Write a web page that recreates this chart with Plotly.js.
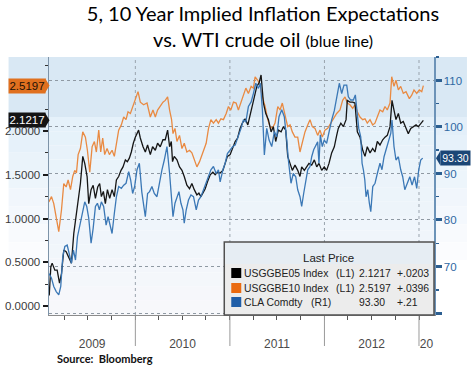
<!DOCTYPE html>
<html><head><meta charset="utf-8">
<script src="https://cdn.plot.ly/plotly-3.0.1.min.js"></script>
<style>html,body{margin:0;padding:0;background:#fff}#chart{width:475px;height:368px}</style>
</head><body><div id="chart"></div>
<script>
// ---- data (time stamps as decimal years) ----
const t10 = [2009.085,2009.113,2009.137,2009.163,2009.190,2009.219,2009.243,2009.268,2009.289,2009.314,2009.338,2009.359,2009.377,2009.395,2009.419,2009.444,2009.472,2009.493,2009.518,2009.543,2009.567,2009.588,2009.613,2009.634,2009.655,2009.676,2009.701,2009.726,2009.754,2009.778,2009.803,2009.824,2009.852,2009.877,2009.902,2009.923,2009.948,2009.972,2010.000,2010.029,2010.053,2010.088,2010.124,2010.159,2010.187,2010.212,2010.236,2010.264,2010.293,2010.317,2010.342,2010.363,2010.384,2010.399,2010.420,2010.441,2010.468,2010.494,2010.518,2010.546,2010.574,2010.599,2010.624,2010.652,2010.680,2010.705,2010.729,2010.750,2010.775,2010.800,2010.827,2010.856,2010.880,2010.906,2010.933,2010.962,2010.986,2011.011,2011.039,2011.067,2011.091,2011.119,2011.144,2011.170,2011.197,2011.226,2011.250,2011.268,2011.296,2011.321,2011.345,2011.374,2011.402,2011.426,2011.451,2011.479,2011.508,2011.532,2011.556,2011.585,2011.613,2011.638,2011.662,2011.690,2011.719,2011.743,2011.768,2011.796,2011.825,2011.849,2011.873,2011.902,2011.930,2011.955,2011.979,2012.007,2012.036,2012.071,2012.106,2012.131,2012.166,2012.194,2012.219,2012.243,2012.271,2012.300,2012.324,2012.349,2012.377,2012.406,2012.430,2012.454,2012.483,2012.511,2012.535,2012.560,2012.588,2012.617,2012.641,2012.665,2012.694,2012.712,2012.736,2012.757,2012.782,2012.807,2012.834,2012.863,2012.898,2012.923,2012.947,2012.976,2013.003,2013.029,2013.046];
const be10 = [1.19,1.25,1.17,1.02,0.85,1.10,1.40,1.36,1.44,1.33,1.48,1.55,1.52,1.73,1.80,1.99,1.93,1.78,1.53,1.82,1.88,1.76,2.01,1.76,1.92,1.73,1.80,1.73,1.78,1.71,1.90,2.01,2.07,2.16,2.13,2.22,2.20,2.28,2.35,2.45,2.33,2.30,2.32,2.16,2.24,2.16,2.24,2.28,2.33,2.35,2.39,2.24,2.13,1.97,2.03,1.88,1.95,1.80,1.86,1.76,1.78,1.75,1.67,1.59,1.65,1.73,1.80,1.86,2.03,2.13,2.09,2.13,2.09,2.14,2.13,2.20,2.28,2.24,2.33,2.32,2.24,2.33,2.43,2.49,2.43,2.51,2.49,2.62,2.58,2.53,2.39,2.28,2.13,2.05,2.03,2.09,2.28,2.24,2.32,2.20,2.05,2.07,1.99,1.93,1.93,1.76,1.86,1.99,2.07,2.13,2.05,2.03,1.95,2.01,1.93,2.01,2.03,2.09,2.16,2.20,2.24,2.35,2.39,2.32,2.30,2.26,2.30,2.22,2.16,2.13,2.14,2.09,2.13,2.07,2.09,2.16,2.24,2.22,2.28,2.24,2.32,2.62,2.51,2.58,2.47,2.51,2.43,2.45,2.37,2.41,2.47,2.43,2.47,2.45,2.5197];

const t05 = [2009.089,2009.106,2009.120,2009.148,2009.173,2009.198,2009.219,2009.243,2009.268,2009.296,2009.324,2009.349,2009.374,2009.395,2009.419,2009.444,2009.465,2009.490,2009.507,2009.532,2009.554,2009.578,2009.602,2009.623,2009.641,2009.662,2009.683,2009.705,2009.729,2009.754,2009.778,2009.800,2009.824,2009.849,2009.870,2009.895,2009.916,2009.937,2009.958,2009.979,2010.000,2010.035,2010.053,2010.082,2010.106,2010.130,2010.159,2010.183,2010.212,2010.236,2010.264,2010.293,2010.317,2010.342,2010.363,2010.381,2010.394,2010.412,2010.441,2010.468,2010.494,2010.518,2010.546,2010.574,2010.599,2010.624,2010.652,2010.673,2010.694,2010.715,2010.740,2010.764,2010.793,2010.821,2010.845,2010.870,2010.898,2010.927,2010.951,2010.975,2011.004,2011.032,2011.057,2011.083,2011.109,2011.133,2011.162,2011.191,2011.215,2011.239,2011.260,2011.286,2011.310,2011.331,2011.356,2011.381,2011.409,2011.437,2011.461,2011.486,2011.514,2011.543,2011.567,2011.592,2011.613,2011.638,2011.662,2011.690,2011.719,2011.743,2011.761,2011.789,2011.814,2011.838,2011.867,2011.895,2011.920,2011.944,2011.973,2012.000,2012.025,2012.050,2012.078,2012.106,2012.131,2012.148,2012.175,2012.202,2012.230,2012.243,2012.271,2012.300,2012.324,2012.334,2012.349,2012.377,2012.406,2012.430,2012.454,2012.483,2012.511,2012.535,2012.560,2012.588,2012.617,2012.641,2012.665,2012.694,2012.715,2012.736,2012.757,2012.782,2012.807,2012.834,2012.863,2012.887,2012.913,2012.940,2012.969,2012.993,2013.018,2013.046];
const be05 = [0.12,0.45,0.49,0.41,0.41,0.26,0.37,0.64,0.62,0.56,0.49,0.83,1.02,1.17,1.40,1.71,1.63,1.48,1.17,1.33,1.38,1.23,1.36,1.40,1.25,1.31,1.17,1.33,1.23,1.33,1.25,1.44,1.48,1.55,1.59,1.67,1.65,1.69,1.76,1.86,1.93,2.01,1.92,1.82,1.76,1.84,1.73,1.82,1.78,1.86,1.82,1.90,1.90,2.01,1.82,1.88,1.65,1.71,1.67,1.59,1.55,1.48,1.38,1.34,1.40,1.33,1.27,1.29,1.25,1.29,1.34,1.42,1.50,1.53,1.50,1.53,1.52,1.55,1.63,1.71,1.73,1.82,1.88,1.92,2.03,2.09,2.14,2.07,2.18,2.28,2.41,2.51,2.55,2.64,2.32,2.20,2.13,1.99,2.05,1.88,2.01,1.99,2.05,2.01,1.71,1.63,1.55,1.61,1.55,1.48,1.59,1.55,1.59,1.63,1.61,1.67,1.59,1.63,1.55,1.59,1.55,1.63,1.75,1.82,1.95,2.03,2.09,2.05,2.13,2.35,2.33,2.33,2.32,2.20,1.99,1.93,1.78,1.71,1.82,1.75,1.80,1.76,1.88,1.84,1.90,1.93,1.95,2.05,2.35,2.24,2.13,2.20,2.09,2.11,2.03,1.97,2.03,2.05,2.07,2.05,2.09,2.1217];

const tOil = [2009.087,2009.113,2009.137,2009.163,2009.190,2009.211,2009.232,2009.254,2009.279,2009.303,2009.324,2009.345,2009.367,2009.388,2009.409,2009.437,2009.465,2009.486,2009.507,2009.532,2009.554,2009.578,2009.599,2009.620,2009.641,2009.665,2009.691,2009.712,2009.733,2009.754,2009.778,2009.800,2009.824,2009.852,2009.877,2009.902,2009.930,2009.951,2009.972,2009.993,2010.018,2010.043,2010.069,2010.085,2010.106,2010.130,2010.151,2010.176,2010.201,2010.229,2010.257,2010.282,2010.307,2010.335,2010.363,2010.384,2010.399,2010.420,2010.441,2010.462,2010.483,2010.504,2010.518,2010.539,2010.563,2010.589,2010.616,2010.645,2010.669,2010.694,2010.722,2010.750,2010.775,2010.800,2010.827,2010.856,2010.880,2010.898,2010.927,2010.951,2010.975,2011.004,2011.032,2011.057,2011.091,2011.119,2011.144,2011.170,2011.197,2011.226,2011.250,2011.275,2011.303,2011.324,2011.345,2011.366,2011.391,2011.416,2011.444,2011.472,2011.497,2011.521,2011.550,2011.577,2011.603,2011.620,2011.648,2011.672,2011.698,2011.719,2011.743,2011.761,2011.782,2011.803,2011.825,2011.849,2011.867,2011.888,2011.909,2011.930,2011.944,2011.958,2011.979,2012.000,2012.025,2012.050,2012.078,2012.106,2012.131,2012.159,2012.184,2012.208,2012.237,2012.254,2012.279,2012.307,2012.328,2012.343,2012.364,2012.385,2012.399,2012.413,2012.428,2012.441,2012.459,2012.476,2012.491,2012.512,2012.536,2012.560,2012.588,2012.609,2012.631,2012.652,2012.676,2012.702,2012.715,2012.736,2012.757,2012.782,2012.807,2012.828,2012.850,2012.875,2012.903,2012.927,2012.953,2012.976,2012.997,2013.018,2013.039];
const oil = [68.5,67.5,65.7,64.6,63.9,65.7,72.1,74.3,74.6,72.8,70.7,73.5,71.4,76.4,78.6,80.7,83.9,82.9,80.4,75.0,78.2,82.9,83.6,82.2,83.9,82.9,78.9,80.7,78.6,77.1,81.4,85.0,87.2,86.8,87.5,87.9,90.4,88.6,85.7,87.2,90.8,92.2,86.0,83.6,80.7,85.7,86.1,87.2,85.7,85.0,88.2,90.8,92.9,95.8,90.0,85.0,80.7,83.6,85.0,86.1,83.6,82.2,79.3,82.2,84.3,85.4,85.0,82.2,84.3,85.0,86.5,87.9,89.3,90.8,91.5,90.0,90.8,88.2,90.8,92.2,94.3,95.1,95.8,96.1,97.9,99.7,101.5,101.1,104.4,105.4,107.2,109.4,108.3,109.4,103.7,94.0,99.7,97.2,95.8,99.0,97.9,102.2,103.7,102.2,97.2,92.9,87.9,90.0,89.3,86.5,85.0,82.9,85.7,88.6,90.8,91.5,93.6,95.1,95.8,96.8,92.2,98.3,95.8,97.2,96.5,99.0,101.5,103.5,106.0,109.4,107.2,109.0,109.0,106.5,105.8,105.8,106.9,104.4,99.7,97.9,92.2,90.8,88.6,85.0,86.5,83.6,81.8,87.2,87.9,90.0,92.2,90.8,93.6,95.1,96.8,98.6,101.5,95.8,92.9,93.6,90.8,89.3,86.5,87.9,89.3,87.5,89.3,86.8,90.8,92.9,93.3];

const years = [2009, 2010, 2011, 2012, 2013];
const yearLabels = ['2009', '2010', '2011', '2012', '20'];
const leftTicks = [0, 0.5, 1.0, 1.5, 2.0];
const leftTickText = ['0.0000', '0.5000', '1.0000', '1.5000', '2.0000'];
const rightTicks = [60, 70, 80, 90, 100, 110];
const rightTickText = ['', '70', '80', '90', '100', '110'];
const legendNames = ['USGGBE05 Index', 'USGGBE10 Index', 'CLA Comdty'];
const legendAxes = ['(L1)', '(L1)', '(R1)'];
const lastPrice = ['2.1217', '2.5197', '93.30'];
const netChange = ['+.0203', '+.0396', '+.21'];
const seriesColors = ['#151515', '#e98a42', '#3b78b6'];
const swatchColors = ['#000000', '#ea6a10', '#1f5ea8'];
const tagColors = ['#141414', '#e0701f', '#1b4676'];

// ---- helpers ----
const xStart = 2009.0866, xEnd = 2013.1587;
const toDate = d => { const y = Math.floor(d); const a = Date.UTC(y,0,1), b = Date.UTC(y+1,0,1);
  return new Date(a + (d - y) * (b - a)).toISOString().slice(0,19).replace('T',' '); };
const yr2p = d => (d - xStart) / (xEnd - xStart);
// pixel helpers for decoration placement (plot area: x 48.5..434, y 57..315)
const PL = 48.5, PR = 434, PT = 57, PB = 315;
const px = p => (p - PL) / (PR - PL);
const py = p => (PB - p) / (PB - PT);
const yL = [-0.103, 2.846], yR = [59.57, 115.05];

const traces = [
  {x: tOil.map(toDate), y: oil, yaxis: 'y2', mode: 'lines', line: {color: seriesColors[2], width: 1.3}, name: 'CLA Comdty', hoverinfo: 'skip'},
  {x: t10.map(toDate), y: be10, mode: 'lines', line: {color: seriesColors[1], width: 1.3}, name: 'USGGBE10 Index', hoverinfo: 'skip'},
  {x: t05.map(toDate), y: be05, mode: 'lines', line: {color: seriesColors[0], width: 1.3}, name: 'USGGBE05 Index', hoverinfo: 'skip'}
];

// ---- decoration shapes ----
const shapes = [];
const lerp = (c1, c2, f) => { const a = c1.match(/\w\w/g).map(h => parseInt(h,16)), b = c2.match(/\w\w/g).map(h => parseInt(h,16));
  return 'rgb(' + a.map((v,i) => Math.round(v + (b[i]-v)*f)).join(',') + ')'; };
shapes.push({type:'rect', xref:'paper', yref:'paper', x0: px(8), x1: px(467), y0: py(117), y1: py(57), fillcolor:'#d9e8f4', line:{width:0}, layer:'below'});
const N = 14;
for (let i = 0; i < N; i++) {
  const a = 117 + (315-117)*i/N, b = 117 + (315-117)*(i+1)/N;
  shapes.push({type:'rect', xref:'paper', yref:'paper', x0: 0, x1: 1, y0: py(b), y1: py(a), fillcolor: lerp('e5f1fa','f7f8fb', i/(N-1)), line:{width:0}, layer:'below'});
}
for (let i = 0; i < 8; i++) {
  const a = 117 + (260-117)*i/8, b = 117 + (260-117)*(i+1)/8;
  const c = lerp('e3eff9','fbfcfe', i/7);
  shapes.push({type:'rect', xref:'paper', yref:'paper', x0: px(8), x1: 0, y0: py(b), y1: py(a), fillcolor: c, line:{width:0}, layer:'below'});
  shapes.push({type:'rect', xref:'paper', yref:'paper', x0: 1, x1: px(467), y0: py(b), y1: py(a), fillcolor: c, line:{width:0}, layer:'below'});
}
years.slice(1).forEach(y => {
  shapes.push({type:'line', xref:'paper', yref:'paper', x0: yr2p(y), x1: yr2p(y), y0: 0, y1: 1, line:{color:'#9aa3ad', width:1, dash:'dot'}, layer:'below'});
  shapes.push({type:'line', xref:'paper', yref:'paper', x0: yr2p(y), x1: yr2p(y), y0: py(316), y1: py(346), line:{color:'#9a9a9a', width:1}});
});
// legend box
shapes.push({type:'rect', xref:'paper', yref:'paper', x0: px(224), x1: px(434), y0: py(315), y1: py(242), fillcolor:'#ececec', line:{color:'#505050', width:1.5}, layer:'above'});
shapes.push({type:'rect', xref:'paper', yref:'paper', x0: px(225), x1: px(433), y0: py(264), y1: py(243), fillcolor:'#e6edf3', line:{width:0}, layer:'above'});
const rowY = [273, 288, 302];
rowY.forEach((yy, i) => {
  shapes.push({type:'rect', xref:'paper', yref:'paper', x0: px(231), x1: px(241), y0: py(yy+5), y1: py(yy-5), fillcolor: swatchColors[i], line:{width:0}, layer:'above'});
});
// tag pointers
const hL = 7.5 * (yL[1]-yL[0]) / (PB-PT), hR = 7.5 * (yR[1]-yR[0]) / (PB-PT);
const lastL = [be05[be05.length-1], be10[be10.length-1]];
lastL.forEach((v, i) => {
  shapes.push({type:'path', xref:'paper', yref:'y', path: `M ${px(44.5)},${v+hL} L ${px(49)},${v} L ${px(44.5)},${v-hL} Z`, fillcolor: tagColors[i], line:{width:0}, layer:'above'});
});
const lastOil = oil[oil.length-1];
shapes.push({type:'path', xref:'paper', yref:'y2', path: `M ${px(440.5)},${lastOil+hR} L ${px(436)},${lastOil} L ${px(440.5)},${lastOil-hR} Z`, fillcolor: tagColors[2], line:{width:0}, layer:'above'});

// ---- annotations ----
const NF = 'Liberation Sans, Arial, sans-serif';
const LF = 10.4;
const ann = [];
ann.push({xref:'paper', yref:'y', x: px(45), y: lastL[0], xanchor:'right', yanchor:'middle', text: lastPrice[0], showarrow:false, bgcolor: tagColors[0], width: 36, height: 14, borderpad: 0, font:{family:NF, size:11.5, color:'#ffffff'}});
ann.push({xref:'paper', yref:'y', x: px(45), y: lastL[1], xanchor:'right', yanchor:'middle', text: lastPrice[1], showarrow:false, bgcolor: tagColors[1], width: 36, height: 14, borderpad: 0, font:{family:NF, size:11.5, color:'#241005'}});
ann.push({xref:'paper', yref:'y2', x: px(440), y: lastOil, xanchor:'left', yanchor:'middle', text: lastPrice[2], showarrow:false, bgcolor: tagColors[2], width: 29, height: 14, borderpad: 0, font:{family:NF, size:10.5, color:'#ffffff'}});
ann.push({xref:'paper', yref:'paper', x: px(328), y: py(258), xanchor:'center', yanchor:'middle', text:'Last Price', showarrow:false, font:{family:NF, size:11.5, color:'#222'}});
const axX = [334, 334, 309];
rowY.forEach((yy, i) => {
  ann.push({xref:'paper', yref:'paper', x: px(242), y: py(yy), xanchor:'left', yanchor:'middle', text: legendNames[i], showarrow:false, font:{family:NF, size:LF, color:'#222'}});
  ann.push({xref:'paper', yref:'paper', x: px(axX[i]), y: py(yy), xanchor:'left', yanchor:'middle', text: legendAxes[i], showarrow:false, font:{family:NF, size:LF, color:'#222'}});
  ann.push({xref:'paper', yref:'paper', x: px(357), y: py(yy), xanchor:'left', yanchor:'middle', text: lastPrice[i], showarrow:false, font:{family:NF, size:LF, color:'#222'}});
  ann.push({xref:'paper', yref:'paper', x: px(395), y: py(yy), xanchor:'left', yanchor:'middle', text: netChange[i], showarrow:false, font:{family:NF, size:LF, color:'#222'}});
});
ann.push({xref:'paper', yref:'paper', x: px(55), y: py(358), xanchor:'left', yanchor:'middle', text:'<b>Source:  Bloomberg</b>', showarrow:false, font:{family:'Lato, sans-serif', size:11, color:'#111'}});

const tickPos = years.map(y => toDate((Math.max(y, xStart) + Math.min(y+1, xEnd)) / 2));

const layout = {
  width: 475, height: 368,
  margin: {l: PL, r: 475-PR, t: PT, b: 368-PB, pad: 0},
  paper_bgcolor: '#ffffff', plot_bgcolor: 'rgba(0,0,0,0)',
  showlegend: false,
  title: {text: '5, 10 Year Implied Inflation Expectations<br>vs. WTI crude oil <span style="font-size:16px">(blue line)</span>',
          xref: 'container', x: 263/475, xanchor: 'center', yref: 'container', y: 1 - 21/368, yanchor: 'top',
          font: {family: 'Lato, sans-serif', size: 20, color: '#000'}},
  xaxis: {type: 'date', range: [toDate(xStart), toDate(xEnd)], tickmode: 'array', tickvals: tickPos, ticktext: yearLabels,
          ticks: '', showgrid: false, zeroline: false, showline: true, linecolor: '#8c8c8c', linewidth: 1,
          tickfont: {family: NF, size: 12, color: '#4a4a4a'}, ticklabelstandoff: 18,
          minor: {tickmode: 'linear', tick0: '2009-01-01', dtick: 'M3', ticks: 'outside', ticklen: 4, tickwidth: 1, tickcolor: '#555', showgrid: false}},
  yaxis: {range: yL, tickmode: 'array', tickvals: leftTicks, ticktext: leftTickText, ticks: 'outside', ticklen: 5, tickwidth: 2, tickcolor: '#1a1a1a',
          showgrid: false, zeroline: false, showline: true, linecolor: '#7d93a8', linewidth: 1.5,
          tickfont: {family: NF, size: 11.5, color: '#3a3a3a'},
          minor: {tickmode: 'linear', tick0: 0, dtick: 0.25, ticks: 'outside', ticklen: 3, tickwidth: 1, tickcolor: '#333', showgrid: false}},
  yaxis2: {overlaying: 'y', side: 'right', range: yR, tickmode: 'array', tickvals: rightTicks, ticktext: rightTickText,
          ticks: 'outside', ticklen: 6, tickwidth: 3, tickcolor: '#2c5f91',
          showgrid: true, gridcolor: '#8f99a3', griddash: 'dot', gridwidth: 1, zeroline: false,
          showline: true, linecolor: '#6c93b8', linewidth: 1.5,
          tickfont: {family: NF, size: 11.5, color: '#2f68a3'},
          minor: {tickmode: 'linear', tick0: 60, dtick: 5, ticks: 'outside', ticklen: 3, tickwidth: 1.5, tickcolor: '#2c5f91', showgrid: false}},
  shapes: shapes,
  annotations: ann
};

Plotly.newPlot('chart', traces, layout, {displayModeBar: false, staticPlot: true});
</script></body></html>
